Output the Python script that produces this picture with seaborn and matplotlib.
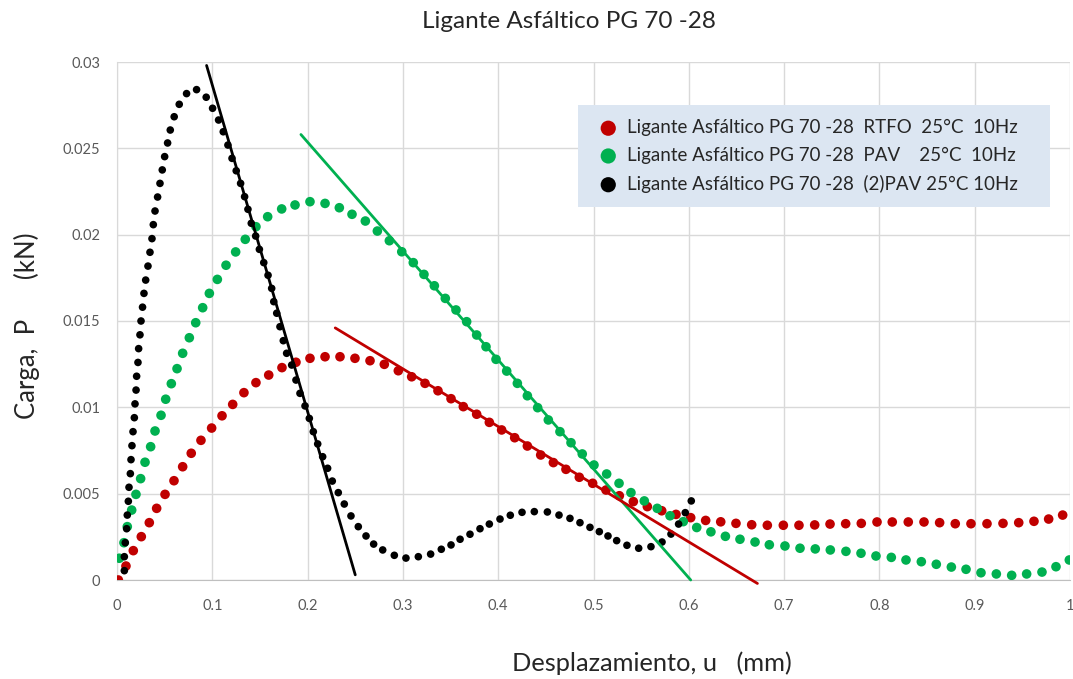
import numpy as np
import pandas as pd
import matplotlib
matplotlib.use("Agg")
import matplotlib.pyplot as plt
import seaborn as sns

# ---------------- data ----------------
rtfo_x = [0.0014, 0.0094, 0.0171, 0.0255, 0.0339, 0.0416, 0.0504, 0.0598, 0.0689, 0.0779,
          0.0881, 0.0993, 0.1102, 0.1214, 0.1332, 0.1458, 0.1592, 0.1731, 0.1878, 0.2025,
          0.2183, 0.2340, 0.2497, 0.2655, 0.2805, 0.2952, 0.3092, 0.3232, 0.3368, 0.3505,
          0.3634, 0.3774, 0.3907, 0.4036, 0.4173, 0.4306, 0.4446, 0.4579, 0.4711, 0.4851,
          0.4991, 0.5131, 0.5271, 0.5418, 0.5565, 0.5716, 0.5866, 0.6020, 0.6177, 0.6335,
          0.6495, 0.6660, 0.6824, 0.6992, 0.7156, 0.7321, 0.7482, 0.7646, 0.7810, 0.7975,
          0.8135, 0.8303, 0.8468, 0.8632, 0.8796, 0.8961, 0.9129, 0.9297, 0.9462, 0.9622,
          0.9776, 0.9923]
rtfo_y = [0.0, 0.00081, 0.0017, 0.00251, 0.00332, 0.00415, 0.00496, 0.00575, 0.00656, 0.00734,
          0.00809, 0.0088, 0.00951, 0.01017, 0.01085, 0.01143, 0.01187, 0.0123, 0.01261, 0.01284,
          0.01293, 0.01293, 0.01284, 0.0127, 0.01249, 0.01212, 0.01177, 0.01139, 0.01096, 0.0105,
          0.01004, 0.0096, 0.00913, 0.00869, 0.00824, 0.00776, 0.00724, 0.0068, 0.00641, 0.00595,
          0.0056, 0.00521, 0.00488, 0.00454, 0.00425, 0.00401, 0.0038, 0.00361, 0.00345, 0.00337,
          0.00328, 0.0032, 0.00317, 0.00317, 0.00317, 0.00319, 0.00324, 0.00326, 0.00328, 0.00336,
          0.00336, 0.00336, 0.00336, 0.00332, 0.00326, 0.00326, 0.00326, 0.00328, 0.00332, 0.0034,
          0.00353, 0.00376]

pav_x = [0.0024, 0.0073, 0.0108, 0.0154, 0.0199, 0.0248, 0.0294, 0.0353, 0.0399, 0.0462,
         0.0511, 0.0570, 0.0630, 0.0689, 0.0759, 0.0826, 0.0899, 0.0969, 0.1053, 0.1144,
         0.1245, 0.1346, 0.1458, 0.1581, 0.1728, 0.1868, 0.2025, 0.2183, 0.2333, 0.2466,
         0.2606, 0.2732, 0.2858, 0.2988, 0.3109, 0.3221, 0.3330, 0.3445, 0.3557, 0.3669,
         0.3774, 0.3872, 0.3977, 0.4089, 0.4201, 0.4306, 0.4414, 0.4526, 0.4648, 0.4764,
         0.4882, 0.5005, 0.5138, 0.5268, 0.5393, 0.5533, 0.5669, 0.5803, 0.5942, 0.6083,
         0.6232, 0.6384, 0.6537, 0.6695, 0.6845, 0.7009, 0.7167, 0.7327, 0.7485, 0.7649,
         0.7807, 0.7964, 0.8125, 0.8279, 0.8440, 0.8597, 0.8755, 0.8909, 0.9066, 0.9227,
         0.9388, 0.9545, 0.9706, 0.9853, 0.9993]
pav_y = [0.00126, 0.00216, 0.00309, 0.00405, 0.00496, 0.00587, 0.00682, 0.00772, 0.00863, 0.00954,
         0.01047, 0.01137, 0.01224, 0.01313, 0.01403, 0.0149, 0.01577, 0.0166, 0.01741, 0.01823,
         0.019, 0.01973, 0.02046, 0.02104, 0.02149, 0.02172, 0.02191, 0.02181, 0.02156, 0.02118,
         0.02079, 0.02021, 0.01965, 0.01901, 0.01838, 0.0177, 0.01704, 0.01631, 0.01564, 0.01496,
         0.01419, 0.01351, 0.01278, 0.0121, 0.01139, 0.01067, 0.00998, 0.00927, 0.00859, 0.00795,
         0.0073, 0.00666, 0.00614, 0.0056, 0.00506, 0.00458, 0.00415, 0.00372, 0.00338, 0.00304,
         0.00279, 0.00253, 0.00236, 0.0022, 0.00204, 0.00197, 0.00184, 0.0018, 0.00174, 0.00166,
         0.00155, 0.00139, 0.00131, 0.00116, 0.00106, 0.00091, 0.00075, 0.00062, 0.00042, 0.00035,
         0.00027, 0.00035, 0.00046, 0.00077, 0.00116]

pav2_x = [0.0077, 0.0077, 0.0087, 0.0101, 0.0108, 0.0119, 0.0126, 0.0140, 0.0147, 0.0157,
          0.0168, 0.0182, 0.0189, 0.0200, 0.0206, 0.0220, 0.0227, 0.0241, 0.0252, 0.0268,
          0.0283, 0.0301, 0.0325, 0.0346, 0.0367, 0.0381, 0.0399, 0.0426, 0.0451, 0.0475,
          0.0500, 0.0531, 0.0559, 0.0600, 0.0653, 0.0730, 0.0835, 0.0936, 0.1003, 0.1066,
          0.1115, 0.1164, 0.1207, 0.1251, 0.1297, 0.1339, 0.1374, 0.1409, 0.1455, 0.1494,
          0.1540, 0.1585, 0.1623, 0.1645, 0.1676, 0.1710, 0.1745, 0.1780, 0.1833, 0.1878,
          0.1920, 0.1973, 0.2018, 0.2060, 0.2106, 0.2158, 0.2210, 0.2259, 0.2322, 0.2385,
          0.2455, 0.2532, 0.2613, 0.2693, 0.2788, 0.2910, 0.3032, 0.3162, 0.3291, 0.3403,
          0.3505, 0.3600, 0.3704, 0.3809, 0.3907, 0.4019, 0.4127, 0.4250, 0.4379, 0.4516,
          0.4638, 0.4753, 0.4858, 0.4963, 0.5061, 0.5152, 0.5243, 0.5351, 0.5474, 0.5603,
          0.5719, 0.5813, 0.5893, 0.5963, 0.6026]
pav2_y = [0.00054, 0.00135, 0.00216, 0.00297, 0.00376, 0.00456, 0.00537, 0.00616, 0.00697, 0.00778,
          0.00859, 0.0094, 0.0102, 0.011, 0.0118, 0.0126, 0.0134, 0.0142, 0.015, 0.0158,
          0.0166, 0.01737, 0.01818, 0.01898, 0.01977, 0.02058, 0.02137, 0.02218, 0.02297, 0.02375,
          0.02452, 0.02531, 0.02606, 0.02683, 0.02755, 0.02817, 0.0284, 0.02796, 0.02732, 0.02664,
          0.02596, 0.02519, 0.02442, 0.0237, 0.02297, 0.0222, 0.02147, 0.02066, 0.01992, 0.01915,
          0.01838, 0.01765, 0.01689, 0.01612, 0.01545, 0.01467, 0.01386, 0.01313, 0.01245, 0.01158,
          0.01081, 0.01008, 0.00936, 0.00859, 0.00788, 0.00714, 0.00647, 0.00573, 0.00506, 0.0044,
          0.00371, 0.00309, 0.00255, 0.00208, 0.00174, 0.00143, 0.00127, 0.00135, 0.0015, 0.00178,
          0.00203, 0.00236, 0.00265, 0.00297, 0.00324, 0.00353, 0.00375, 0.00392, 0.00396, 0.00394,
          0.00376, 0.00357, 0.00332, 0.00305, 0.0028, 0.00255, 0.00228, 0.00201, 0.00184, 0.00193,
          0.0022, 0.00266, 0.00324, 0.0039, 0.00458]

# tangent lines (end points)
tan_black_x = [0.094, 0.250]
tan_black_y = [0.0298, 0.0003]
tan_green_x = [0.193, 0.602]
tan_green_y = [0.0258, 0.0]
tan_red_x = [0.229, 0.672]
tan_red_y = [0.0146, -0.0002]

labels = ["Ligante Asfáltico PG 70 -28  RTFO  25°C  10Hz",
          "Ligante Asfáltico PG 70 -28  PAV    25°C  10Hz",
          "Ligante Asfáltico PG 70 -28  (2)PAV 25°C 10Hz"]
title = "Ligante Asfáltico PG 70 -28"
xlabel = "Desplazamiento, u   (mm)"
ylabel = "Carga,  P      (kN)"
xticks = [0, 0.1, 0.2, 0.3, 0.4, 0.5, 0.6, 0.7, 0.8, 0.9, 1.0]
xtick_labels = ["0", "0.1", "0.2", "0.3", "0.4", "0.5", "0.6", "0.7", "0.8", "0.9", "1"]
yticks = [0, 0.005, 0.01, 0.015, 0.02, 0.025, 0.03]
ytick_labels = ["0", "0.005", "0.01", "0.015", "0.02", "0.025", "0.03"]

RED = "#c00000"
GREEN = "#00b050"
BLACK = "#000000"

# ---------------- plot ----------------
sns.set_style("whitegrid")
plt.rcParams['font.family'] = ['Lato', 'DejaVu Sans']

fig = plt.figure(figsize=(10.73, 6.79), dpi=100)
ax = fig.add_axes([117/1073, 1 - 580/679, (1070-117)/1073, (580-62)/679])

df_r = pd.DataFrame({"x": rtfo_x, "y": rtfo_y})
df_g = pd.DataFrame({"x": pav_x, "y": pav_y})
df_b = pd.DataFrame({"x": pav2_x, "y": pav2_y})

sns.scatterplot(data=df_r, x="x", y="y", ax=ax, color=RED, s=48, edgecolor="none",
                label=labels[0], zorder=3)
sns.scatterplot(data=df_g, x="x", y="y", ax=ax, color=GREEN, s=48, edgecolor="none",
                label=labels[1], zorder=3)
sns.scatterplot(data=df_b, x="x", y="y", ax=ax, color=BLACK, s=30, edgecolor="none",
                label=labels[2], zorder=4)

for tx, ty, c in [(tan_black_x, tan_black_y, BLACK),
                  (tan_green_x, tan_green_y, GREEN),
                  (tan_red_x, tan_red_y, RED)]:
    sns.lineplot(x=tx, y=ty, ax=ax, color=c, linewidth=2.0, legend=False,
                 estimator=None, sort=False, zorder=5)
for ln in ax.lines:
    ln.set_clip_on(False)

ax.set_xlim(0, 1)
ax.set_ylim(0, 0.03)
ax.set_xticks(xticks)
ax.set_xticklabels(xtick_labels)
ax.set_yticks(yticks)
ax.set_yticklabels(ytick_labels)
ax.grid(True, color="#d9d9d9", linewidth=1.0)
ax.set_axisbelow(True)
for side in ["top", "right"]:
    ax.spines[side].set_visible(False)
ax.spines["left"].set_color("#d9d9d9")
ax.spines["bottom"].set_color("#bfbfbf")
ax.tick_params(axis="both", length=0, colors="#595959", labelsize=10.5)
ax.tick_params(axis="x", pad=14)
ax.tick_params(axis="y", pad=12)

ax.set_xlabel("")
ax.set_ylabel("")
fig.text(652/1073, 1 - 663/679, xlabel, ha="center", va="center", fontsize=18.3,
         color="#262626")
fig.text(27/1073, 1 - 326/679, ylabel, ha="center", va="center", fontsize=18.5,
         rotation=90, color="#262626")
fig.text(569/1073, 1 - 22/679, title, ha="center", va="center", fontsize=17.5,
         color="#262626")

leg = ax.legend(loc="upper left", bbox_to_anchor=(0.484, 0.72, 0.495, 0.197), mode="expand",
                frameon=True, facecolor="#dce6f2", edgecolor="none", framealpha=1,
                fancybox=False, fontsize=13.5, handletextpad=0.15, borderpad=0.75,
                labelspacing=0.57, handlelength=1.7, borderaxespad=0)
for h in leg.legend_handles:
    h.set_sizes([120])
for t in leg.get_texts():
    t.set_color("#262626")

fig.savefig("out.png", dpi=100)
